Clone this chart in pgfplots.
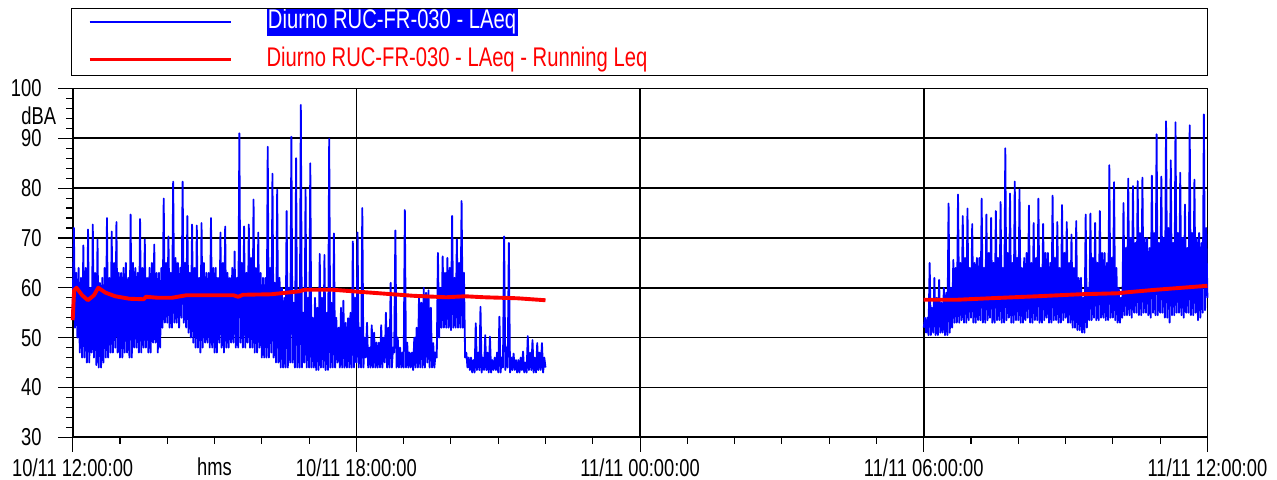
\documentclass[border=0pt]{standalone}
\usepackage{pgfplots}
\pgfplotsset{compat=1.18}
\usepackage{fontspec}
\setmainfont{Liberation Sans}[FakeStretch=0.75]
\newcommand{\tickfont}{\fontsize{8.8}{10}\selectfont}
\newcommand{\legfont}{\fontsize{9.7}{11}\selectfont}
\begin{document}
\begin{tikzpicture}
\begin{axis}[
  scale only axis, width=408.5pt, height=125.6pt,
  xmin=0, xmax=24, ymin=30, ymax=100,
  xtick={0,6,12,18,24},
  xticklabels={10/11 12:00:00,10/11 18:00:00,11/11 00:00:00,11/11 06:00:00,11/11 12:00:00},
  minor x tick num=5,
  ytick={30,40,...,100},
  minor y tick num=4,
  tick align=outside, tick pos=left,
  major tick length=5.2pt, minor tick length=2.3pt,
  tick style={black, line width=0.4pt},
  grid=major, major grid style={black, line width=0.6pt},
  axis line style={black, line width=0.6pt},
  /pgf/number format/assume math mode=true,
  tick label style={font=\tickfont, inner sep=0pt},
  yticklabel style={anchor=east, xshift=-5.8pt},
  xticklabel style={anchor=base, yshift=-8.8pt},
  clip=false,
  unbounded coords=jump,
  legend style={at={(rel axis cs:0,1)}, anchor=north west, xshift=5.4pt, yshift=28.4pt,
    draw=none, fill=none, inner sep=0pt, outer sep=0pt, font=\legfont,
    row sep=4.5pt, nodes={inner sep=0pt, text height=7pt, text depth=2pt},
    /tikz/every odd column/.append style={column sep=12pt}},
  legend cell align=left,
  legend image code/.code={\draw[#1] (0pt,0pt) -- (51pt,0pt);},
]
\addplot[color=blue, line width=0.65pt, line join=round] table[row sep=\\] {
x y\\
0 55\\ 0.025 72\\ 0.05 52\\ 0.075 63\\ 0.1 50\\ 0.125 64\\ 0.15 47\\ 0.175 62\\
0.2 46\\ 0.225 68.5\\ 0.25 46\\ 0.275 64\\ 0.3 45\\ 0.325 71.7\\ 0.35 45\\ 0.375 60\\
0.4 47\\ 0.425 72.7\\ 0.45 46\\ 0.475 63\\ 0.5 44.5\\ 0.525 69.7\\ 0.55 44\\ 0.575 61\\
0.6 44\\ 0.625 62\\ 0.65 45\\ 0.675 64\\ 0.7 46\\ 0.725 74\\ 0.75 46\\ 0.775 62\\
0.8 47\\ 0.825 71.3\\ 0.85 47\\ 0.875 65\\ 0.9 48\\ 0.925 73.2\\ 0.95 47\\ 0.975 63\\
1 46\\ 1.025 63\\ 1.05 46\\ 1.075 64\\ 1.1 47\\ 1.125 65\\ 1.15 47\\ 1.175 62\\
1.2 46\\ 1.225 74.7\\ 1.25 46\\ 1.275 65\\ 1.3 48\\ 1.325 64\\ 1.35 48\\ 1.375 63\\
1.4 47\\ 1.425 73.8\\ 1.45 47\\ 1.475 64\\ 1.5 48\\ 1.525 69.7\\ 1.55 48\\ 1.575 62\\
1.6 47\\ 1.625 64\\ 1.65 47\\ 1.675 65\\ 1.7 49\\ 1.725 68.7\\ 1.75 49\\ 1.775 63\\
1.8 47\\ 1.825 63\\ 1.85 48\\ 1.875 64\\ 1.9 52\\ 1.925 77.9\\ 1.95 53\\ 1.975 65\\
2 53\\ 2.025 70.3\\ 2.05 52\\ 2.075 63\\ 2.1 52\\ 2.125 81.3\\ 2.15 53\\ 2.175 66\\
2.2 53\\ 2.225 65\\ 2.25 52\\ 2.275 64\\ 2.3 54\\ 2.325 81.3\\ 2.35 53\\ 2.375 65\\
2.4 52\\ 2.425 74.4\\ 2.45 51\\ 2.475 63\\ 2.5 50\\ 2.525 72.7\\ 2.55 49\\ 2.575 64\\
2.6 48\\ 2.625 72.5\\ 2.65 48\\ 2.675 62\\ 2.7 47\\ 2.725 73\\ 2.75 48\\ 2.775 65\\
2.8 49\\ 2.825 63\\ 2.85 49\\ 2.875 63\\ 2.9 48\\ 2.925 74\\ 2.95 48\\ 2.975 64\\
3 47\\ 3.025 64\\ 3.05 47\\ 3.075 62\\ 3.1 49\\ 3.125 71.1\\ 3.15 48\\ 3.175 65\\
3.2 47\\ 3.225 72.3\\ 3.25 48\\ 3.275 63\\ 3.3 48\\ 3.325 62\\ 3.35 49\\ 3.375 64\\
3.4 49\\ 3.425 67.3\\ 3.45 48\\ 3.475 62\\ 3.5 48\\ 3.525 91\\ 3.55 49\\ 3.575 65\\
3.6 48\\ 3.625 72.3\\ 3.65 48\\ 3.675 63\\ 3.7 49\\ 3.725 72.7\\ 3.75 48\\ 3.775 66\\
3.8 48\\ 3.825 77.7\\ 3.85 47\\ 3.875 64\\ 3.9 47\\ 3.925 71.1\\ 3.95 48\\ 3.975 63\\
4 46\\ 4.025 62\\ 4.05 46\\ 4.075 62\\ 4.1 46\\ 4.125 88.3\\ 4.15 46\\ 4.175 64\\
4.2 47\\ 4.225 82.9\\ 4.25 46\\ 4.275 61\\ 4.3 45\\ 4.325 79.7\\ 4.35 45\\ 4.375 62\\
4.4 44\\ 4.425 60\\ 4.45 44\\ 4.475 58\\ 4.5 44\\ 4.525 75.4\\ 4.55 44\\ 4.575 60\\
4.6 45\\ 4.625 90.3\\ 4.65 45\\ 4.675 57\\ 4.7 44\\ 4.725 86\\ 4.75 44\\ 4.775 59\\
4.8 44\\ 4.825 96.7\\ 4.85 44\\ 4.875 55\\ 4.9 45\\ 4.925 79.7\\ 4.95 44\\ 4.975 58\\
5 44\\ 5.025 85\\ 5.05 44\\ 5.075 54\\ 5.1 44\\ 5.125 58\\ 5.15 43.5\\ 5.175 56\\
5.2 43.5\\ 5.225 66.8\\ 5.25 44\\ 5.275 58\\ 5.3 44\\ 5.325 66.6\\ 5.35 43.5\\ 5.375 55\\
5.4 43.5\\ 5.425 89.9\\ 5.45 44\\ 5.475 57\\ 5.5 44\\ 5.525 70.9\\ 5.55 44\\ 5.575 54\\
5.6 45\\ 5.625 52\\ 5.65 44\\ 5.675 56\\ 5.7 44\\ 5.725 57.4\\ 5.75 44\\ 5.775 53\\
5.8 44\\ 5.825 53.9\\ 5.85 44\\ 5.875 55\\ 5.9 44\\ 5.925 69.3\\ 5.95 44\\ 5.975 58\\
6 45\\ 6.025 71.1\\ 6.05 44\\ 6.075 52\\ 6.1 44\\ 6.125 76\\ 6.15 44\\ 6.175 50\\
6.2 46\\ 6.225 53\\ 6.25 44\\ 6.275 48\\ 6.3 44\\ 6.325 52.5\\ 6.35 44\\ 6.375 51\\
6.4 44\\ 6.425 49\\ 6.45 44\\ 6.475 49\\ 6.5 44\\ 6.525 52.5\\ 6.55 44\\ 6.575 50\\
6.6 45\\ 6.625 55\\ 6.65 44\\ 6.675 52\\ 6.7 44\\ 6.725 61\\ 6.75 44\\ 6.775 48\\
6.8 47\\ 6.825 71.5\\ 6.85 44\\ 6.875 50\\ 6.9 44\\ 6.925 48\\ 6.95 44\\ 6.975 47\\
7 44\\ 7.025 75.6\\ 7.05 44\\ 7.075 49\\ 7.1 44\\ 7.125 47\\ 7.15 44\\ 7.175 47\\
7.2 43.5\\ 7.225 50\\ 7.25 44\\ 7.275 52\\ 7.3 44\\ 7.325 58.3\\ 7.35 44\\ 7.375 57\\
7.4 44\\ 7.425 60\\ 7.45 44\\ 7.475 59\\ 7.5 45\\ 7.525 59.5\\ 7.55 44\\ 7.575 56\\
7.6 44\\ 7.625 48.9\\ 7.65 44\\ 7.675 47\\ 7.7 46\\ 7.725 67\\ 7.75 50\\ 7.775 60\\
7.8 52\\ 7.825 66.3\\ 7.85 52\\ 7.875 63\\ 7.9 52\\ 7.925 66\\ 7.95 52\\ 7.975 64\\
8 51.5\\ 8.025 74.4\\ 8.05 52\\ 8.075 62\\ 8.1 52\\ 8.125 69.7\\ 8.15 52\\ 8.175 65\\
8.2 52\\ 8.225 77.4\\ 8.25 52\\ 8.275 63\\ 8.3 46\\ 8.325 47\\ 8.35 44\\ 8.375 46\\
8.4 43.5\\ 8.425 46\\ 8.45 43\\ 8.475 45.5\\ 8.5 43\\ 8.525 52.9\\ 8.55 43.5\\ 8.575 47\\
8.6 43.5\\ 8.625 56.2\\ 8.65 43\\ 8.675 46\\ 8.7 43.5\\ 8.725 50.5\\ 8.75 43.5\\ 8.775 47\\
8.8 43\\ 8.825 50.2\\ 8.85 43\\ 8.875 45.5\\ 8.9 43.5\\ 8.925 46\\ 8.95 43.5\\ 8.975 47\\
9 43\\ 9.025 54.2\\ 9.05 43\\ 9.075 46\\ 9.1 44\\ 9.125 70.3\\ 9.15 43.5\\ 9.175 48\\
9.2 44\\ 9.225 69\\ 9.25 43\\ 9.275 46\\ 9.3 43.5\\ 9.325 46.8\\ 9.35 43.5\\ 9.375 45.5\\
9.4 43\\ 9.425 45.5\\ 9.45 43\\ 9.475 46\\ 9.5 43.5\\ 9.525 47.2\\ 9.55 43\\ 9.575 45\\
9.6 43\\ 9.625 50.3\\ 9.65 43.5\\ 9.675 47\\ 9.7 43.5\\ 9.725 49.5\\ 9.75 43\\ 9.775 46\\
9.8 43\\ 9.825 48.9\\ 9.85 43.5\\ 9.875 47\\ 9.9 43.5\\ 9.925 48.9\\ 9.95 43\\ 9.975 46\\
10 44\\
14 nan\\
18 52\\ 18.025 54\\ 18.05 51\\ 18.075 54\\ 18.1 50.5\\ 18.125 65\\ 18.15 50.5\\ 18.175 56\\
18.2 51\\ 18.225 62\\ 18.25 50.5\\ 18.275 58\\ 18.3 50.5\\ 18.325 61.6\\ 18.35 51\\ 18.375 57\\
18.4 51\\ 18.425 60\\ 18.45 50.5\\ 18.475 59\\ 18.5 50.5\\ 18.525 76.9\\ 18.55 51\\ 18.575 60\\
18.6 52\\ 18.625 65.6\\ 18.65 53\\ 18.675 64\\ 18.7 53\\ 18.725 78.7\\ 18.75 53\\ 18.775 65\\
18.8 53.5\\ 18.825 74.4\\ 18.85 53\\ 18.875 66\\ 18.9 53\\ 18.925 75.9\\ 18.95 53.5\\ 18.975 64\\
19 54\\ 19.025 72.8\\ 19.05 53\\ 19.075 65\\ 19.1 53\\ 19.125 66\\ 19.15 53.5\\ 19.175 66\\
19.2 53.5\\ 19.225 77.9\\ 19.25 53\\ 19.275 64\\ 19.3 53\\ 19.325 74.7\\ 19.35 53.5\\ 19.375 67\\
19.4 54\\ 19.425 74\\ 19.45 53\\ 19.475 65\\ 19.5 53\\ 19.525 75.4\\ 19.55 53.5\\ 19.575 66\\
19.6 53.5\\ 19.625 77.2\\ 19.65 53\\ 19.675 64\\ 19.7 53\\ 19.725 88\\ 19.75 53.5\\ 19.775 67\\
19.8 54\\ 19.825 78.9\\ 19.85 53\\ 19.875 65\\ 19.9 53\\ 19.925 81.3\\ 19.95 53.5\\ 19.975 66\\
20 53.5\\ 20.025 79.7\\ 20.05 53\\ 20.075 64\\ 20.1 53\\ 20.125 66\\ 20.15 53.5\\ 20.175 67\\
20.2 54\\ 20.225 76.5\\ 20.25 53\\ 20.275 65\\ 20.3 53\\ 20.325 73\\ 20.35 53.5\\ 20.375 66\\
20.4 53.5\\ 20.425 77.9\\ 20.45 53\\ 20.475 64\\ 20.5 53\\ 20.525 72.8\\ 20.55 53.5\\ 20.575 67\\
20.6 54\\ 20.625 67\\ 20.65 53\\ 20.675 65\\ 20.7 53\\ 20.725 78.5\\ 20.75 53.5\\ 20.775 66\\
20.8 53.5\\ 20.825 73.2\\ 20.85 53\\ 20.875 64\\ 20.9 53\\ 20.925 76.6\\ 20.95 53.5\\ 20.975 67\\
21 54\\ 21.025 73.2\\ 21.05 53\\ 21.075 65\\ 21.1 53\\ 21.125 70.7\\ 21.15 52\\ 21.175 64\\
21.2 52\\ 21.225 73.4\\ 21.25 51.5\\ 21.275 62\\ 21.3 51.5\\ 21.325 62\\ 21.35 51\\ 21.375 58\\
21.4 51\\ 21.425 74.7\\ 21.45 52\\ 21.475 60\\ 21.5 53.5\\ 21.525 74.9\\ 21.55 53.5\\ 21.575 66\\
21.6 54\\ 21.625 73\\ 21.65 53.5\\ 21.675 65\\ 21.7 53.5\\ 21.725 75.4\\ 21.75 54\\ 21.775 67\\
21.8 54\\ 21.825 67\\ 21.85 53.5\\ 21.875 65\\ 21.9 53.5\\ 21.925 84.6\\ 21.95 54\\ 21.975 66\\
22 54\\ 22.025 81.2\\ 22.05 53.5\\ 22.075 64\\ 22.1 53\\ 22.125 60\\ 22.15 53\\ 22.175 58\\
22.2 54\\ 22.225 77\\ 22.25 54.5\\ 22.275 68\\ 22.3 54.5\\ 22.325 81.9\\ 22.35 54.5\\ 22.375 70\\
22.4 54\\ 22.425 80.4\\ 22.45 55\\ 22.475 69\\ 22.5 55\\ 22.525 81.4\\ 22.55 54.5\\ 22.575 71\\
22.6 54.5\\ 22.625 82.1\\ 22.65 55\\ 22.675 70\\ 22.7 55\\ 22.725 70\\ 22.75 54.5\\ 22.775 68\\
22.8 54\\ 22.825 82.5\\ 22.85 55\\ 22.875 71\\ 22.9 54.5\\ 22.925 90.8\\ 22.95 54.5\\ 22.975 69\\
23 55\\ 23.025 82.3\\ 23.05 55\\ 23.075 70\\ 23.1 54\\ 23.125 93.4\\ 23.15 54\\ 23.175 72\\
23.2 53\\ 23.225 85.6\\ 23.25 54.5\\ 23.275 69\\ 23.3 54.5\\ 23.325 93.2\\ 23.35 55\\ 23.375 71\\
23.4 55\\ 23.425 83.1\\ 23.45 54.5\\ 23.475 70\\ 23.5 54\\ 23.525 76.7\\ 23.55 55\\ 23.575 68\\
23.6 55\\ 23.625 92.6\\ 23.65 54.5\\ 23.675 71\\ 23.7 54.5\\ 23.725 81.7\\ 23.75 55\\ 23.775 70\\
23.8 53.5\\ 23.825 71\\ 23.85 54\\ 23.875 69\\ 23.9 55\\ 23.925 94.8\\ 23.95 55.5\\ 23.975 72\\
24 58\\
};
\addlegendentry{{\setlength{\fboxsep}{0.5pt}\colorbox{blue}{\textcolor{white}{Diurno RUC-FR-030 - LAeq}}}}
\addplot[color=red, line width=1.4pt, line join=round] table[row sep=\\] {
x y\\
0 53.5\\ 0.03 59.5\\ 0.08 60\\ 0.2 58.5\\ 0.32 57.5\\ 0.45 58.5\\ 0.54 60\\ 0.7 59\\ 0.9 58.3\\ 1.2 57.8\\
1.5 57.7\\ 1.55 58.2\\ 1.8 58\\ 2.1 58\\ 2.4 58.5\\ 3.4 58.5\\ 3.5 58.2\\ 3.6 58.6\\ 4.2 58.7\\ 4.5 59\\
4.8 59.3\\ 4.9 59.6\\ 5.5 59.6\\ 6.2 59.1\\ 7.2 58.4\\ 7.9 58.1\\ 8.3 58.3\\ 8.7 58.1\\ 9.4 57.9\\ 10 57.5\\
14 nan\\
18 57.6\\ 18.7 57.6\\ 19.4 57.9\\ 20.4 58.3\\ 21.3 58.7\\ 22.1 58.9\\ 22.3 59.1\\ 22.9 59.6\\ 24 60.4\\
};
\addlegendentry{\textcolor{red}{Diurno RUC-FR-030 - LAeq - Running Leq}}
\coordinate (sw) at (rel axis cs:0,0);
\coordinate (nw) at (rel axis cs:0,1);
\coordinate (ne) at (rel axis cs:1,1);
\node[anchor=east, inner sep=0pt, font=\tickfont, xshift=-5.8pt] at (axis cs:0,94.6) {dBA};
\node[anchor=base, inner sep=0pt, font=\tickfont, yshift=-13.7pt] at (axis cs:3,30) {hms};
\end{axis}
\draw[black, line width=0.4pt] ([xshift=-0.36pt, yshift=4.7pt]nw) rectangle ([yshift=28.8pt]ne);
\path (sw) ++(-26.17pt,-15.01pt) rectangle ++(459.72pt,172.44pt);
\end{tikzpicture}
\end{document}
